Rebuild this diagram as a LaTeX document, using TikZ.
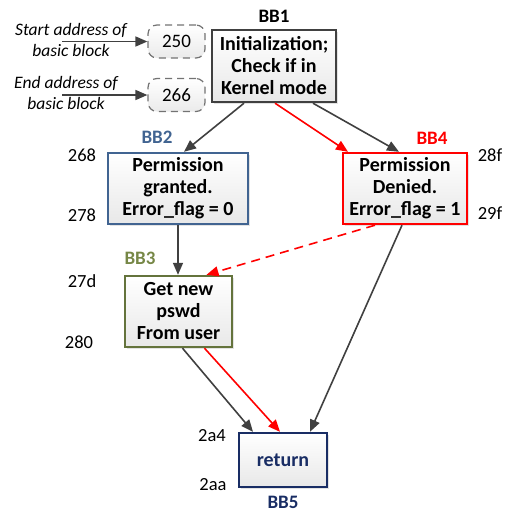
\documentclass[tikz,border=0pt]{standalone}
\usepackage{fontspec}
\setmainfont{Carlito}
\usetikzlibrary{arrows.meta,shadows,calc}

\definecolor{edgegray}{RGB}{64,64,64}
\definecolor{bbblue}{RGB}{65,100,145}
\definecolor{bbred}{RGB}{255,0,0}
\definecolor{bbolive}{RGB}{100,115,60}
\definecolor{bbolivetxt}{RGB}{118,135,70}
\definecolor{bbnavy}{RGB}{25,45,100}

\tikzset{
  block/.style={draw, line width=2.4pt, align=center, inner sep=0pt,
    top color=white, bottom color=black!9,
    drop shadow={shadow xshift=2pt, shadow yshift=-2pt, fill=black!22},
    font=\fontsize{20}{22}\selectfont\bfseries},
  addrbox/.style={draw=black!55, dashed, dash pattern=on 7pt off 5pt, line width=1.2pt,
    rounded corners=9pt, minimum width=57pt, minimum height=33pt,
    top color=white, bottom color=black!8,
    font=\fontsize{19}{22}\selectfont},
  bblabel/.style={font=\fontsize{19}{20}\selectfont\bfseries},
  addr/.style={font=\fontsize{18.5}{22}\selectfont},
  note/.style={align=center, font=\fontsize{17.5}{20.5}\selectfont\itshape},
  flow/.style={draw=edgegray, line width=1.6pt, -{Triangle[length=12pt,width=10pt]}},
  redflow/.style={draw=bbred, line width=1.6pt, -{Triangle[length=12pt,width=10pt]}},
}

\begin{document}
\begin{tikzpicture}[x=1pt,y=-1pt]
  \useasboundingbox (0,0) rectangle (509,512);

  % basic blocks
  \node[block, draw=edgegray, minimum width=124pt, minimum height=72pt]
    (bb1) at (274,66) {Initialization;\\Check if in\\Kernel mode};
  \node[block, draw=bbblue, minimum width=140pt, minimum height=71pt]
    (bb2) at (178,188.5) {Permission\\granted.\\Error\_flag = 0};
  \node[block, draw=bbred, minimum width=124pt, minimum height=71pt]
    (bb4) at (405,188.5) {Permission\\Denied.\\Error\_flag = 1};
  \node[block, draw=bbolive, minimum width=107pt, minimum height=71pt]
    (bb3) at (178.5,311.5) {Get new\\pswd\\From user};
  \node[block, draw=bbnavy, text=bbnavy, minimum width=88pt, minimum height=54pt]
    (bb5) at (283,460) {return};

  % block names
  \node[bblabel] (l1) at (274,16) {BB1};
  \node[bblabel, text=bbblue] (l2) at (157,137) {BB2};
  \node[bblabel, text=bbred] (l4) at (432,138) {BB4};
  \node[bblabel, text=bbolivetxt] (l3) at (140,258) {BB3};
  \node[bblabel, text=bbnavy] (l5) at (283,502) {BB5};

  % start / end addresses
  \node[addr] (a268) at (82,155) {268};
  \node[addr] (a278) at (82,215) {278};
  \node[addr] (a28f) at (490,155) {28f};
  \node[addr] (a29f) at (490,213) {29f};
  \node[addr] (a27d) at (82,281) {27d};
  \node[addr] (a280) at (79,342) {280};
  \node[addr] (a2a4) at (212,436) {2a4};
  \node[addr] (a2aa) at (213,485) {2aa};

  % legend for the address boxes
  \node[addrbox] (s250) at (176.5,41.5) {250};
  \node[addrbox] (e266) at (176.5,95) {266};
  \node[note] (snote) at (71,40) {Start address of\\basic block};
  \node[note] (enote) at (66,93) {End address of\\basic block};
  \coordinate (sfrom) at (62,41.5);
  \coordinate (efrom) at (62,95);
  \draw[flow] (sfrom) -- (s250.west);
  \draw[flow] (efrom) -- (e266.west);

  % control flow
  \draw[flow] ([xshift=-30pt]bb1.south) -- ([xshift=6pt]bb2.north);
  \draw[redflow] ([xshift=1pt]bb1.south) -- ([xshift=-57pt]bb4.north);
  \draw[flow] ([xshift=39pt]bb1.south) -- ([xshift=-6pt]bb4.north);
  \draw[flow] (bb2.south) -- ([xshift=-0.5pt]bb3.north);
  \draw[redflow, dashed, dash pattern=on 9pt off 6pt] ([xshift=-30pt]bb4.south) -- ([xshift=28pt]bb3.north);
  \draw[flow] ([xshift=4pt]bb3.south) -- ([xshift=-30pt]bb5.north);
  \draw[redflow] ([xshift=26pt]bb3.south) -- ([xshift=-3pt]bb5.north);
  \draw[flow] ([xshift=-3pt]bb4.south) -- ([xshift=27pt]bb5.north);
\end{tikzpicture}
\end{document}
